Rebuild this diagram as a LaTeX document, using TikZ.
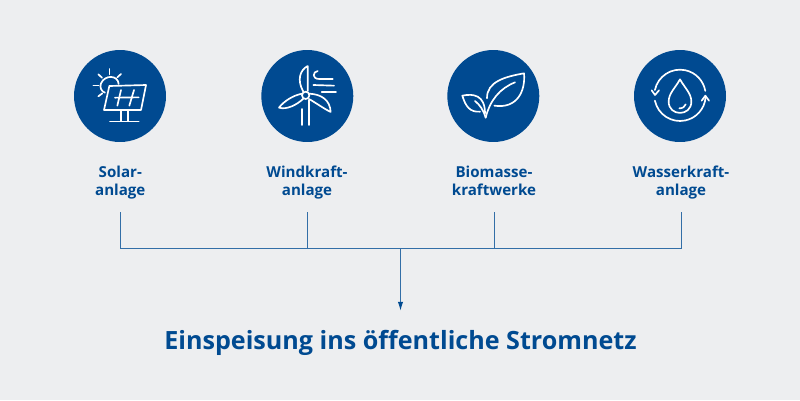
\documentclass[tikz,border=0pt]{standalone}
\usepackage{fontspec}
\setmainfont{Open Sans}
\usetikzlibrary{arrows.meta}
\definecolor{bluedark}{HTML}{004A91}
\definecolor{bggray}{HTML}{EDEEF0}
\begin{document}
\begin{tikzpicture}[x=0.02cm,y=-0.02cm,
    main/.style = {circle, fill=bluedark, minimum size=1.84cm, inner sep=0pt},
    plant/.style = {text=bluedark, font=\fontsize{8.6}{10.6}\selectfont\bfseries, align=center, minimum height=1.18cm, inner sep=0pt},
    headline/.style = {text=bluedark, font=\fontsize{14.3}{17}\selectfont\bfseries, minimum height=1.28cm, inner sep=0pt},
    bus/.style = {draw=bluedark!80!white, line width=0.5pt},
    icon/.style = {draw=white, line width=0.95pt, line cap=round, line join=round}]
    \fill[bggray] (0,0) rectangle (800,400);
    \useasboundingbox (0,0) rectangle (800,400);
    \node[main] (solar) at (120,96) {};
    \node[main] (wind) at (307.3,96) {};
    \node[main] (bio) at (493.3,96) {};
    \node[main] (water) at (680,96) {};
    \node[plant] (solarname) at (120.3,182.5) {Solar-\\anlage};
    \node[plant] (windname) at (307,182.5) {Windkraft-\\anlage};
    \node[plant] (bioname) at (494,182.5) {Biomasse-\\kraftwerke\vphantom{g}};
    \node[plant] (watername) at (681,182.5) {Wasserkraft-\\anlage};
    \node[headline] (grid) at (400.5,343) {Einspeisung ins öffentliche Stromnetz};
    \coordinate (solarjoin) at (solarname |- 0,248);
    \coordinate (windjoin) at (windname |- 0,248);
    \coordinate (biojoin) at (bioname |- 0,248);
    \coordinate (waterjoin) at (watername |- 0,248);
    \coordinate (stem) at (grid |- 0,248);
    \draw[bus] (solarname.south) -- (solarjoin) -- (waterjoin) -- (watername.south);
    \draw[bus] (windname.south) -- (windjoin);
    \draw[bus] (bioname.south) -- (biojoin);
    \draw[bus,-{Latex[length=5pt,width=3pt,color=bluedark]}] (stem) -- (grid.north);
    % solar
    \begin{scope}[shift={(60,35)},scale=1/3]
    \draw[icon] (148,153) -- (258,150) -- (243,225) -- (132,225) -- cycle;
    \draw[icon] (165,188) -- (236,187);
    \draw[icon] (183,165) -- (172,212);
    \draw[icon] (222,165) -- (208,212);
    \draw[icon] (182,228) -- (182,258);
    \draw[icon] (204,228) -- (204,258);
    \draw[icon] (150,259) -- (236,259);
    \draw[icon] (176,147) .. controls (174,120) and (135,118) .. (123,145) .. controls (118,158) and (125,170) .. (135,173);
    \draw[icon] (148,102) -- (148,118);
    \draw[icon] (115,118) -- (126,128);
    \draw[icon] (183,117) -- (172,127);
    \draw[icon] (100,151) -- (116,151);
    \draw[icon] (115,184) -- (127,175);
    \end{scope}
    % wind
    \begin{scope}[shift={(250,35)},scale=1/3]
    \draw[icon] (167,181) circle (11);
    \draw[icon] (173,168) -- (173,93) .. controls (150,105) and (140,135) .. (160,170);
    \draw[icon] (157,176) .. controls (130,180) and (100,200) .. (87,218) .. controls (110,225) and (140,210) .. (160,191);
    \draw[icon] (178,176) .. controls (215,178) and (240,195) .. (242,231) .. controls (220,220) and (200,205) .. (177,192);
    \draw[icon] (155,222) -- (155,270);
    \draw[icon] (176,195) -- (176,270);
    \draw[icon] (203,108) .. controls (188,110) and (185,132) .. (208,132) -- (248,132);
    \draw[icon] (190,150) -- (252,152);
    \draw[icon] (215,170) -- (258,170);
    \end{scope}
    % leaves
    \begin{scope}[shift={(435,35)},scale=1/3]
    \draw[icon] (156,190) .. controls (155,140) and (210,125) .. (267,115) .. controls (272,170) and (245,222) .. (178,212);
    \draw[icon] (152,248) .. controls (165,195) and (195,160) .. (240,142);
    \draw[icon] (82,182) .. controls (115,175) and (150,180) .. (150,235);
    \draw[icon] (82,182) .. controls (92,215) and (105,232) .. (135,230);
    \draw[icon] (120,198) .. controls (135,210) and (145,225) .. (152,248);
    \end{scope}
    % water
    \begin{scope}[shift={(620,35)},scale=1/3]
    \draw[icon] (104.7,165) arc (192:350:77);
    \draw[icon] (104.7,197) arc (168:5:77);
    \draw[icon] (95,166) -- (105,180) -- (117,166);
    \draw[icon] (245,197) -- (256,182) -- (267,197);
    \draw[icon] (180,133) .. controls (165,160) and (146,175) .. (146,200) .. controls (146,245) and (214,245) .. (214,200) .. controls (214,175) and (195,160) .. (180,133);
    \draw[icon] (178,220) .. controls (188,220) and (195,215) .. (197,208);
    \end{scope}
    \end{tikzpicture}
\end{document}
